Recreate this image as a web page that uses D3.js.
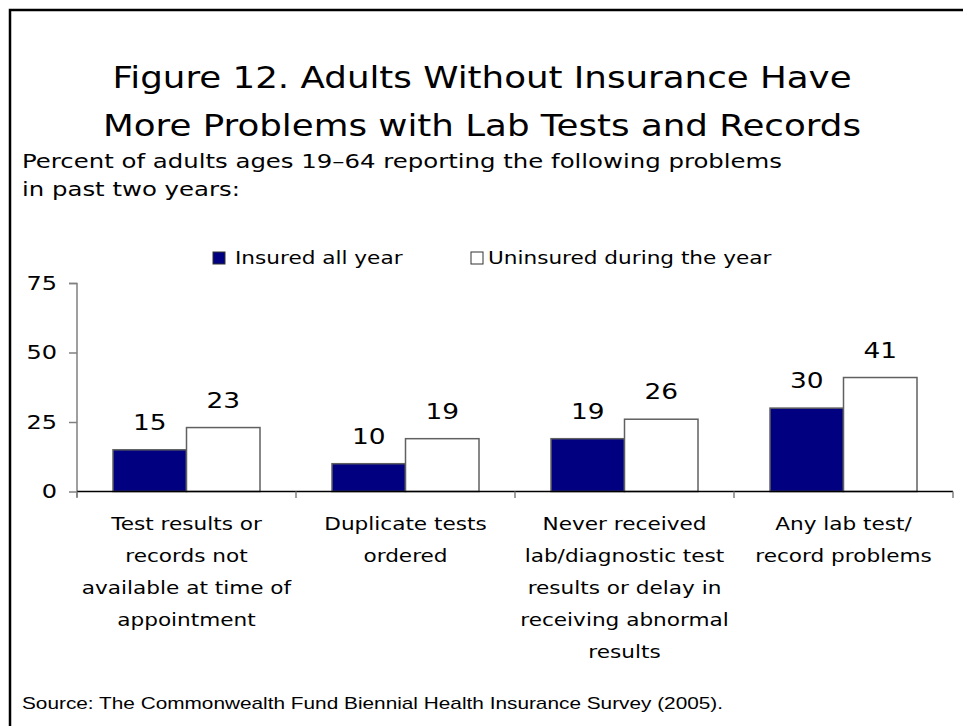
<!DOCTYPE html>
<html><head><meta charset="utf-8">
<script src="https://cdn.jsdelivr.net/npm/d3@7"></script>
<style>
html,body{margin:0;padding:0;background:#fff;}
svg{display:block;}
text{font-family:"DejaVu Sans",Verdana,sans-serif;fill:#000;}
</style></head><body>
<script>
const categories = [
  ["Test results or","records not","available at time of","appointment"],
  ["Duplicate tests","ordered"],
  ["Never received","lab/diagnostic test","results or delay in","receiving abnormal","results"],
  ["Any lab test/","record problems"]
];
const seriesNames = ["Insured all year","Uninsured during the year"];
const insured = [15,10,19,30];
const uninsured = [23,19,26,41];
const yTicks = [0,25,50,75];
const colors = ["#000080","#ffffff"];

const W=963,H=726;
const SX=1.2; // horizontal stretch of the original lettering
const svg=d3.select("body").append("svg").attr("width",W).attr("height",H);
svg.append("rect").attr("width",W).attr("height",H).attr("fill","#fff");
svg.append("path").attr("d","M10,"+(H+5)+" L10,10 L"+(W+5)+",10").attr("fill","none").attr("stroke","#000").attr("stroke-width",2.5);

// helper: stretched text block
function label(x,y,lines,opts){
  const g=svg.append("g").attr("transform","translate("+x+","+y+") scale("+(opts.sx||SX)+",1)");
  const t=g.append("text").attr("text-anchor",opts.anchor||"start").style("font-size",opts.size+"px");
  if(opts.family) t.style("font-family",opts.family);
  lines.forEach((l,k)=>t.append("tspan").attr("x",0).attr("y",k*(opts.lh||0)).text(l));
  return t;
}

label(482,88,["Figure 12. Adults Without Insurance Have","More Problems with Lab Tests and Records"],{size:31,anchor:"middle",lh:48,sx:1.15});
label(22,168,["Percent of adults ages 19\u201364 reporting the following problems","in past two years:"],{size:20,lh:28,sx:1.22});

const x0=d3.scaleBand().domain(d3.range(categories.length)).range([77,953]);
const y=d3.scaleLinear().domain([0,75]).range([491.5,283]);

// y axis
const yAxis=d3.axisLeft(y).tickValues(yTicks).tickSize(8).tickPadding(12);
const gy=svg.append("g").attr("transform","translate(77,0)").call(yAxis);
gy.select(".domain").attr("stroke","#808080").attr("stroke-width",1.5).attr("d","M-8,283.5H0V497");
gy.selectAll(".tick line").attr("stroke","#808080").attr("stroke-width",1.5);
gy.selectAll(".tick text").style("font-size","20px").style("font-family","DejaVu Sans").attr("fill","#000")
  .attr("x",-20/SX).attr("transform","scale("+SX+",1)");

// bars
const data=categories.map((c,i)=>[insured[i],uninsured[i]]);
const groups=svg.append("g").selectAll("g").data(data).join("g")
  .attr("transform",(d,i)=>"translate("+x0(i)+",0)");
const bw=73.5;
const off=(x0.bandwidth()-2*bw)/2;
groups.selectAll("rect").data(d=>d).join("rect")
  .attr("x",(d,j)=>off+j*bw).attr("width",bw)
  .attr("y",d=>y(d)).attr("height",d=>y(0)-y(d))
  .attr("fill",(d,j)=>colors[j]).attr("stroke","#606060").attr("stroke-width",1.5);
groups.selectAll("g.val").data(d=>d).join("g").attr("class","val")
  .attr("transform",(d,j)=>"translate("+(off+j*bw+bw/2)+","+(y(d)-20)+") scale("+SX+",1)")
  .append("text").attr("text-anchor","middle").style("font-size","22px").text(d=>d);

// x axis
const xAxisG=svg.append("g");
xAxisG.append("line").attr("x1",77).attr("x2",953).attr("y1",491.5).attr("y2",491.5).attr("stroke","#000").attr("stroke-width",1.5);
d3.range(categories.length+1).forEach(i=>{
  const xx=i<categories.length?x0(i):953;
  xAxisG.append("line").attr("x1",xx).attr("x2",xx).attr("y1",491.5).attr("y2",498).attr("stroke","#808080").attr("stroke-width",1.5);
});
categories.forEach((lines,i)=>{
  label(x0(i)+x0.bandwidth()/2,530,lines,{size:18,anchor:"middle",lh:32,sx:1.2});
});

// legend
const leg=[{x:213,tx:235},{x:471,tx:488}];
seriesNames.forEach((n,j)=>{
  svg.append("rect").attr("x",leg[j].x).attr("y",252).attr("width",12).attr("height",12)
    .attr("fill",colors[j]).attr("stroke","#333").attr("stroke-width",1);
  label(leg[j].tx,264,[n],{size:18,sx:1.2});
});

label(22,709,["Source: The Commonwealth Fund Biennial Health Insurance Survey (2005)."],{size:16,sx:1.3,family:"Liberation Sans, Arial, sans-serif"});
</script>
</body></html>
